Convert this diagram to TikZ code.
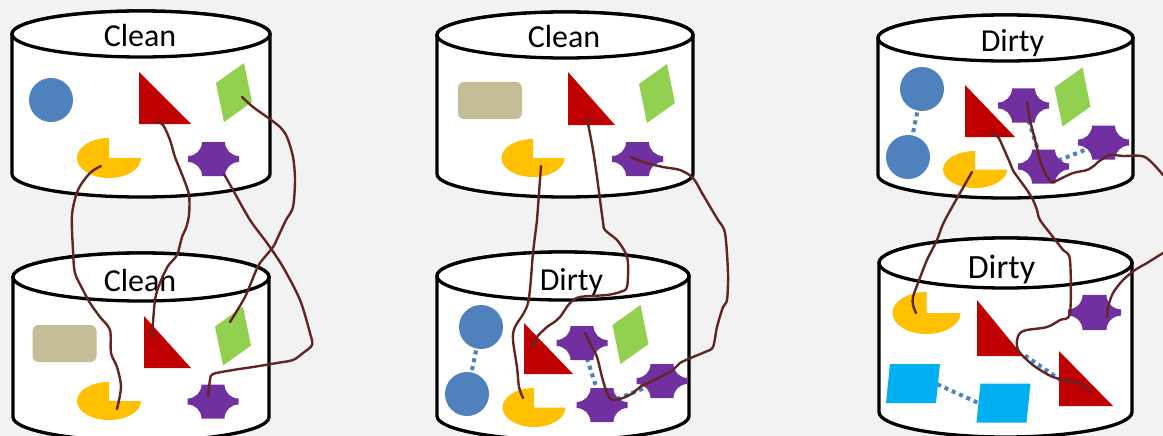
\documentclass[tikz,border=0pt]{standalone}
\usepackage{fontspec}
\setmainfont{Carlito}
\definecolor{bg}{HTML}{F2F2F2}
\definecolor{wirecol}{HTML}{632523}
\definecolor{shblue}{HTML}{4F81BD}
\definecolor{shred}{HTML}{C00000}
\definecolor{shgreen}{HTML}{92D050}
\definecolor{shyellow}{HTML}{FFC000}
\definecolor{shpurple}{HTML}{7030A0}
\definecolor{shtan}{HTML}{C4BD97}
\definecolor{shcyan}{HTML}{00B0F0}
\tikzset{
  cylline/.style={draw=black, line width=3.3pt, fill=white},
  cyltext/.style={font=\fontsize{32}{38}\selectfont, anchor=base, inner sep=0pt},
  wire/.style={draw=wirecol, line width=2.4pt, line cap=round, line join=round},
  dotlink/.style={draw=shblue, line width=4pt, dash pattern=on 4pt off 4pt},
  pics/drum/.style args={#1/#2/#3}{code={
    \filldraw[cylline] (-#1,0) -- (-#1,#3)
      arc[start angle=180, end angle=0, x radius=#1, y radius=#2]
      -- (#1,0) arc[start angle=360, end angle=180, x radius=#1, y radius=#2] -- cycle;
    \draw[cylline] (0,0) ellipse[x radius=#1, y radius=#2];
  }},
  pics/wedge/.style args={#1/#2}{code={
    \fill[shred] (0,0) -- (0,-#2) -- (#1,0) -- cycle;
  }},
  pics/pacman/.style args={#1/#2}{code={
    \fill[shyellow] (0,0) -- (#1,0)
      arc[start angle=0, end angle=270, x radius=#1, y radius=#2] -- cycle;
  }},
  pics/kite/.style={code={
    \fill[shgreen] (-18,-9.5) -- (10,-29.5) -- (18,9.5) -- (-10,29.5) -- cycle;
  }},
  pics/card/.style={code={
    \fill[shcyan] (-23,-19.5) -- (27,-19.5) -- (23,19.5) -- (-27,19.5) -- cycle;
  }},
  pics/slab/.style={code={
    \fill[shtan, rounded corners=6pt] (-32,-18.5) rectangle (32,18.5);
  }},
  pics/plaque/.style={code={
    \fill[shpurple] (-11.5,-17) -- (11.5,-17)
      arc[start angle=180, end angle=90, radius=14] -- (25.5,3)
      arc[start angle=270, end angle=180, radius=14] -- (-11.5,17)
      arc[start angle=0, end angle=-90, radius=14] -- (-25.5,-3)
      arc[start angle=90, end angle=0, radius=14] -- cycle;
  }},
}
\begin{document}
\begin{tikzpicture}[x=1pt, y=-1pt]
\fill[bg] (0,0) rectangle (1163,436);
\useasboundingbox (0,0) rectangle (1163,436);
\clip (0,0) rectangle (1163,436);

% ---------- drum 1 (top left) ----------
\pic at (141,34) {drum=129/23/140};
\node[cyltext] (lab1) at (140,47) {Clean};
\coordinate (c1-disk) at (51,100);
\coordinate (c1-tri) at (139,124);
\coordinate (c1-kite) at (234,92.5);
\coordinate (c1-pac) at (109,158);
\coordinate (c1-star) at (213.5,159);
\fill[shblue] (c1-disk) circle[radius=22];
\pic at (c1-tri) {wedge=52/52};
\pic at (c1-kite) {kite};
\pic at (c1-pac) {pacman=32/20};
\pic at (c1-star) {plaque};

% ---------- drum 2 (bottom left) ----------
\pic at (141,277) {drum=128/24/140};
\node[cyltext] (lab2) at (140,291) {Clean};
\coordinate (c2-slab) at (64.5,343.5);
\coordinate (c2-tri) at (144,368);
\coordinate (c2-kite) at (233,336);
\coordinate (c2-pac) at (109,401);
\coordinate (c2-star) at (213,401.5);
\pic at (c2-slab) {slab};
\pic at (c2-tri) {wedge=47/52};
\pic at (c2-kite) {kite};
\pic at (c2-pac) {pacman=32/19};
\pic at (c2-star) {plaque};

% ---------- drum 3 (top middle) ----------
\pic at (565,35) {drum=128/23/139};
\node[cyltext] (lab3) at (564,48) {Clean};
\coordinate (c3-slab) at (490,100.5);
\coordinate (c3-tri) at (568,125);
\coordinate (c3-kite) at (657,93.5);
\coordinate (c3-pac) at (533,158);
\coordinate (c3-star) at (637.5,159);
\pic at (c3-slab) {slab};
\pic at (c3-tri) {wedge=47/53};
\pic at (c3-kite) {kite};
\pic at (c3-pac) {pacman=31.5/19};
\pic at (c3-star) {plaque};

% ---------- drum 4 (bottom middle) ----------
\pic at (563,276) {drum=126/24/140};
\node[cyltext] (lab4) at (571.5,290) {Dirty};
\coordinate (c4-disk1) at (481,327);
\coordinate (c4-disk2) at (467,394);
\coordinate (c4-tri) at (524,374);
\coordinate (c4-kite) at (630.5,334.5);
\coordinate (c4-pac) at (534,407.5);
\coordinate (c4-star1) at (582,343);
\coordinate (c4-star2) at (602,405);
\coordinate (c4-star3) at (662,381);
\draw[dotlink] (c4-disk1) -- (c4-disk2);
\draw[dotlink] (c4-star1) -- (c4-star2);
\draw[dotlink] (c4-star2) -- (c4-star3);
\fill[shblue] (c4-disk1) circle[radius=22];
\fill[shblue] (c4-disk2) circle[radius=22];
\pic at (c4-tri) {wedge=49/51};
\pic at (c4-kite) {kite};
\pic at (c4-pac) {pacman=31.5/19.5};
\pic at (c4-star1) {plaque};
\pic at (c4-star2) {plaque};
\pic at (c4-star3) {plaque};

% ---------- drum 5 (top right) ----------
\pic at (1005.5,38) {drum=127.5/23/137};
\node[cyltext] (lab5) at (1012.5,52) {Dirty};
\coordinate (c5-disk1) at (922,89);
\coordinate (c5-disk2) at (908,157);
\coordinate (c5-tri) at (965,137);
\coordinate (c5-kite) at (1072.5,97);
\coordinate (c5-pac) at (975,169.5);
\coordinate (c5-star1) at (1023.5,105.5);
\coordinate (c5-star2) at (1043.5,166.5);
\coordinate (c5-star3) at (1103.5,142.5);
\draw[dotlink] (c5-disk1) -- (c5-disk2);
\draw[dotlink] (c5-star1) -- (c5-star2);
\draw[dotlink] (c5-star2) -- (c5-star3);
\fill[shblue] (c5-disk1) circle[radius=22];
\fill[shblue] (c5-disk2) circle[radius=22];
\pic at (c5-tri) {wedge=50/52};
\pic at (c5-kite) {kite};
\pic at (c5-pac) {pacman=32/18.5};
\pic at (c5-star1) {plaque};
\pic at (c5-star2) {plaque};
\pic at (c5-star3) {plaque};

% ---------- drum 6 (bottom right) ----------
\pic at (1005.5,263) {drum=126.5/25/149};
\node[cyltext, font=\fontsize{34}{40}\selectfont] (lab6) at (1001.5,278) {Dirty};
\coordinate (c6-pac) at (926.5,313);
\coordinate (c6-tri1) at (977,356);
\coordinate (c6-tri2) at (1059,406);
\coordinate (c6-star) at (1094.5,312.5);
\coordinate (c6-card1) at (913,383.5);
\coordinate (c6-card2) at (1003.5,403);
\coordinate (c6-card1-end) at (930,381);
\coordinate (c6-card2-end) at (985,406);
\coordinate (c6-tri1-end) at (1025,355.6);
\coordinate (c6-tri2-end) at (1068,385);
\draw[dotlink] (c6-card1-end) -- (c6-card2-end);
\draw[dotlink] (c6-tri1-end) -- (c6-tri2-end);
\pic at (c6-pac) {pacman=34/21};
\pic at (c6-tri1) {wedge=46/56};
\pic at (c6-tri2) {wedge=54/55};
\pic[scale=1.04] at (c6-star) {plaque};
\pic at (c6-card1) {card};
\pic at (c6-card2) {card};

% ---------- hand-drawn threads ----------
\coordinate (a1) at (101,166);   \coordinate (a2) at (117,409);
\coordinate (b1) at (156,122);   \coordinate (b2) at (152,337);
\coordinate (g1) at (242,97);    \coordinate (g2) at (230,322);
\coordinate (d1) at (224,174);   \coordinate (d2) at (208,397);
\coordinate (e1) at (541,166);   \coordinate (e2) at (523,398);
\coordinate (f1) at (587,118);   \coordinate (f2) at (533,348);
\coordinate (h1) at (631,157);   \coordinate (h2) at (585,333);
\coordinate (i1) at (972,172);   \coordinate (i2) at (916,313);
\coordinate (j1) at (990,133);   \coordinate (j2) at (1090,391);
\coordinate (k1) at (1027,102);  \coordinate (k2) at (1163,175);
\coordinate (m1) at (1107,317);  \coordinate (m2) at (1163,253);

\draw[wire] plot[smooth, tension=0.5] coordinates {(a1) (90,173) (78,190) (72,215) (73,250) (75,273) (83,290) (90,303) (100,317) (110,330) (111,353) (117,367) (121,387) (a2)};
\draw[wire] plot[smooth, tension=0.5] coordinates {(b1) (163,125) (170,140) (175,157) (183,177) (189,195) (189,215) (186,228) (182,237) (177,255) (168,266) (160,283) (155,300) (b2)};
\draw[wire] plot[smooth, tension=0.5] coordinates {(g1) (253,107) (267,117) (280,127) (287,137) (293,157) (295,180) (293,207) (286,220) (278,237) (273,247) (260,263) (255,273) (245,297) (g2)};
\draw[wire] plot[smooth, tension=0.5] coordinates {(d1) (233,190) (250,220) (267,243) (283,267) (300,300) (310,333) (312,345) (303,353) (293,360) (277,363) (253,367) (233,370) (213,374) (210,380) (d2)};

\draw[wire] plot[smooth, tension=0.5] coordinates {(e1) (538,207) (537,220) (533,253) (528,303) (515,327) (513,340) (517,367) (519,387) (e2)};
\draw[wire] plot[smooth, tension=0.5] coordinates {(f1) (593,150) (597,177) (603,222) (605,230) (617,240) (625,252) (628,263) (627,287) (620,292) (607,295) (580,297) (570,303) (560,317) (553,323) (547,327) (537,337) (f2)};
\draw[wire] plot[smooth, tension=0.5] coordinates {(h1) (643,162) (663,167) (680,170) (693,178) (702,193) (712,210) (718,220) (725,233) (728,273) (727,300) (723,307) (717,327) (713,347) (705,352) (693,357) (680,363) (673,370) (658,378) (650,382) (640,387) (633,393) (623,398) (612,400) (607,393) (602,377) (597,357) (590,343) (h2)};

\draw[wire] plot[smooth, tension=0.5] coordinates {(i1) (945,220) (937,240) (927,260) (918,283) (913,297) (913,305) (i2)};
\draw[wire] plot[smooth, tension=0.5] coordinates {(j1) (998,137) (1003,147) (1010,163) (1014,172) (1027,190) (1033,200) (1037,210) (1040,220) (1053,237) (1063,250) (1070,260) (1070,313) (1060,320) (1047,327) (1027,330) (1020,333) (1017,340) (1018,350) (1027,360) (1037,368) (1053,377) (1073,382) (1083,385) (j2)};
\draw[wire] plot[smooth, tension=0.5] coordinates {(k1) (1030,120) (1035,140) (1040,160) (1045,173) (1052,182) (1060,179) (1073,173) (1087,170) (1095,165) (1098,162) (1110,155) (1123,156) (1145,157) (k2)};
\draw[wire] plot[smooth, tension=0.5] coordinates {(m1) (1108,307) (1113,293) (1123,280) (1135,270) (1147,263) (m2)};
\end{tikzpicture}
\end{document}
